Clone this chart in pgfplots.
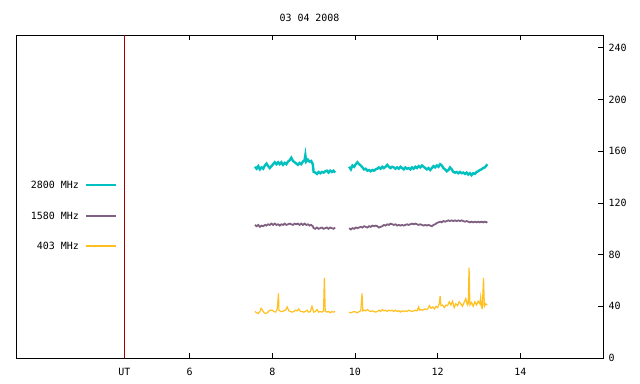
\documentclass[border=0pt]{standalone}
\usepackage{fontspec}
\setmainfont{DejaVu Sans Mono}
\usepackage{pgfplots}
\pgfplotsset{compat=1.18}
\definecolor{c2800}{HTML}{00C0C0}
\definecolor{c1580}{HTML}{7F6080}
\definecolor{c403}{HTML}{FFC020}
\definecolor{utred}{HTML}{A00000}
\begin{document}
\begin{tikzpicture}[font=\fontsize{10}{12}\selectfont]
\path[use as bounding box] (-16bp,-26bp) rectangle (624bp,358bp);
\begin{axis}[
  scale only axis, width=587bp, height=323bp,
  xmin=1.8, xmax=16, ymin=0, ymax=250,
  axis line style={line width=0.9bp},
  tick style={line width=0.9bp, black},
  major tick length=5bp,
  tick align=inside,
  xtick pos=both,
  ytick pos=right, yticklabel pos=right,
  xtick={4.42,6,8,10,12,14}, xticklabels={UT,6,8,10,12,14},
  ytick={0,40,80,120,160,200,240},
  /pgf/number format/assume math mode=true,
  xticklabel style={yshift=-7bp},
  yticklabel style={xshift=2bp},
  title={03 04 2008},
  title style={at={(0.5,1)}, anchor=base, yshift=8bp},
  unbounded coords=jump,
  clip=true,
]
\draw[utred, line width=0.9bp] (axis cs:4.42,0) -- (axis cs:4.42,250);
% 2800 MHz
\addplot[c2800, line width=2.4bp] coordinates {
(7.58,148)(7.62,146.5)(7.66,148.5)(7.70,146)(7.74,147.5)(7.78,146.5)(7.82,149)(7.86,150.5)(7.90,148.5)(7.94,147)(7.98,148.5)(8.02,150)(8.06,151.5)(8.10,150)(8.14,151.5)(8.18,150)(8.22,151.5)(8.26,149.5)(8.30,151)(8.34,150)(8.38,152)(8.42,153)(8.46,155)(8.50,152.5)(8.54,151.5)(8.58,150.5)(8.62,149.5)(8.66,151)(8.70,150)(8.74,152)(8.78,153)(8.80,157)(8.82,152)(8.86,153.5)(8.90,152)(8.94,152.5)(8.98,150)(9.00,144)(9.04,143.5)(9.08,142.5)(9.12,144)(9.16,143)(9.20,144)(9.24,143.5)(9.28,144.5)(9.32,145)(9.36,143.5)(9.40,145)(9.44,144)(9.48,145)(9.52,143.5)
(9.70,nan)
(9.86,148)(9.90,146)(9.94,149)(9.98,148)(10.02,150)(10.06,151.5)(10.10,150)(10.14,149)(10.18,147.5)(10.22,146)(10.26,146.5)(10.30,145)(10.34,145.5)(10.38,144.5)(10.42,145.5)(10.46,145)(10.50,146)(10.54,146.5)(10.58,147.5)(10.62,146.5)(10.66,148)(10.70,147)(10.74,148)(10.78,149.5)(10.82,148)(10.86,147)(10.90,148)(10.94,147.5)(10.98,146.5)(11.02,147.5)(11.06,146.5)(11.10,148)(11.14,147)(11.18,146)(11.22,147.5)(11.26,146.5)(11.30,147)(11.34,146)(11.38,147.5)(11.42,146.5)(11.46,148)(11.50,147)(11.54,148.5)(11.58,147.5)(11.62,149)(11.66,148)(11.70,147)(11.74,146)(11.78,147)(11.82,145.5)(11.86,147)(11.90,148.5)(11.94,147.5)(11.98,149)(12.02,148)(12.06,150)(12.10,149)(12.14,147)(12.18,146)(12.22,144.5)(12.26,145.5)(12.30,147.5)(12.34,146)(12.38,144)(12.42,143.5)(12.46,144)(12.50,143)(12.54,144)(12.58,143)(12.62,143.5)(12.66,142.5)(12.70,143.5)(12.74,142)(12.78,143)(12.82,141.5)(12.86,143)(12.90,142.5)(12.94,144)(12.98,144.5)(13.02,145.5)(13.06,146)(13.10,147)(13.14,147.5)(13.18,149)(13.20,150)
};
% 1580 MHz
\addplot[c1580, line width=1.8bp] coordinates {
(7.58,103)(7.62,102)(7.66,103)(7.70,101.5)(7.74,102.5)(7.78,102)(7.82,103)(7.86,102.5)(7.90,103.5)(7.94,103)(7.98,104)(8.02,103)(8.06,104)(8.10,103)(8.14,103.5)(8.18,102.5)(8.22,103.5)(8.26,103)(8.30,104)(8.34,103)(8.38,103.5)(8.42,104)(8.46,103.5)(8.50,103)(8.54,104)(8.58,103.5)(8.62,104)(8.66,103)(8.70,104)(8.74,103)(8.78,104)(8.82,103)(8.86,103.5)(8.90,102.5)(8.94,103)(8.98,102)(9.00,100.5)(9.04,100)(9.08,101)(9.12,100)(9.16,100.5)(9.20,101)(9.24,100)(9.28,100.5)(9.32,101)(9.36,100)(9.40,101)(9.44,100.5)(9.48,100)(9.52,101)
(9.70,nan)
(9.86,100.5)(9.90,99.5)(9.94,100.5)(9.98,100)(10.02,101)(10.06,100.5)(10.10,101)(10.14,101.5)(10.18,101)(10.22,102)(10.26,101.5)(10.30,101)(10.34,102)(10.38,101.5)(10.42,102.5)(10.46,102)(10.50,102.5)(10.54,102)(10.58,101)(10.62,101.5)(10.66,102)(10.70,103)(10.74,102.5)(10.78,103.5)(10.82,103)(10.86,104)(10.90,103.5)(10.94,103)(10.98,103.5)(11.02,102.5)(11.06,103)(11.10,102.5)(11.14,103)(11.18,102.5)(11.22,103)(11.26,103.5)(11.30,103)(11.34,103.5)(11.38,104)(11.42,103.5)(11.46,104)(11.50,103.5)(11.54,103)(11.58,103.5)(11.62,103)(11.66,102.5)(11.70,103)(11.74,102.5)(11.78,103)(11.82,102.5)(11.86,102)(11.90,103)(11.94,103.5)(11.98,104.5)(12.02,105)(12.06,105.5)(12.10,105)(12.14,106)(12.18,105.5)(12.22,106)(12.26,106.5)(12.30,106)(12.34,106.5)(12.38,106)(12.42,106.5)(12.46,106)(12.50,106.5)(12.54,106)(12.58,106.5)(12.62,106)(12.66,105.5)(12.70,106)(12.74,105.5)(12.78,105)(12.82,105.5)(12.86,105)(12.90,105.5)(12.94,105)(12.98,105.5)(13.02,105)(13.06,105.5)(13.10,105)(13.14,105.5)(13.18,105)(13.20,105.5)
};
% 403 MHz
\addplot[c403, line width=1.2bp] coordinates {
(7.58,36)(7.62,35)(7.66,34.5)(7.70,36)(7.73,38.5)(7.76,37)(7.80,35)(7.84,34.5)(7.88,35)(7.92,36.5)(7.96,37)(8.00,37)(8.04,36)(8.08,35.5)(8.12,38)(8.15,50)(8.16,37)(8.20,36)(8.24,36)(8.28,36.5)(8.32,37)(8.36,39.5)(8.40,36.5)(8.44,36)(8.48,35.5)(8.52,36)(8.56,37)(8.60,36.5)(8.64,38)(8.68,36)(8.72,36)(8.76,35.5)(8.80,36)(8.84,37)(8.88,35.5)(8.92,36)(8.96,40)(9.00,35.5)(9.04,36)(9.08,37.5)(9.12,35.5)(9.16,36)(9.20,35.5)(9.24,36.5)(9.26,62)(9.28,36.5)(9.32,35.5)(9.36,36)(9.40,35)(9.44,36)(9.48,35.5)(9.52,36)
(9.70,nan)
(9.86,35.5)(9.90,35)(9.94,35.5)(9.98,36)(10.02,35.5)(10.06,35)(10.10,36)(10.14,36.5)(10.17,50)(10.19,36.5)(10.22,37)(10.26,36.5)(10.30,37.5)(10.34,36.5)(10.38,36)(10.42,36.5)(10.46,36)(10.50,35.5)(10.54,36)(10.58,37)(10.62,36)(10.66,37.5)(10.70,36.5)(10.74,37)(10.78,36)(10.82,37)(10.86,36.5)(10.90,37)(10.94,36)(10.98,37)(11.02,36)(11.06,36.5)(11.10,35.5)(11.14,36.5)(11.18,36)(11.22,36.5)(11.26,36)(11.30,37)(11.34,36.5)(11.38,36)(11.42,36.5)(11.46,37)(11.50,36.5)(11.54,39.5)(11.56,37)(11.60,37.5)(11.64,37)(11.68,38)(11.72,37.5)(11.76,38)(11.80,40.5)(11.84,38.5)(11.88,39.5)(11.92,38)(11.96,40)(12.00,39)(12.04,42)(12.06,48)(12.08,40.5)(12.12,41)(12.16,39)(12.20,41)(12.24,40.5)(12.28,43.5)(12.32,41)(12.36,44)(12.40,39)(12.44,42)(12.48,40.5)(12.52,43.5)(12.56,42)(12.60,40)(12.64,43)(12.68,46)(12.72,41)(12.74,42)(12.76,70)(12.78,41)(12.82,43)(12.86,40)(12.90,43.5)(12.94,41)(12.98,44)(13.02,42)(13.04,47)(13.06,39)(13.08,38.5)(13.11,62)(13.13,40)(13.16,42)(13.20,41)
};
\end{axis}
% legend
\draw[draw=c2800, line width=1.6bp] (70bp,173bp) -- (100bp,173bp);
\node[anchor=east, inner sep=0pt] at (63bp,173bp) {2800 MHz};
\draw[draw=c1580, line width=1.6bp] (70bp,142bp) -- (100bp,142bp);
\node[anchor=east, inner sep=0pt] at (63bp,142bp) {1580 MHz};
\draw[draw=c403, line width=1.6bp] (70bp,112bp) -- (100bp,112bp);
\node[anchor=east, inner sep=0pt] at (63bp,112bp) {403 MHz};
\end{tikzpicture}
\end{document}
